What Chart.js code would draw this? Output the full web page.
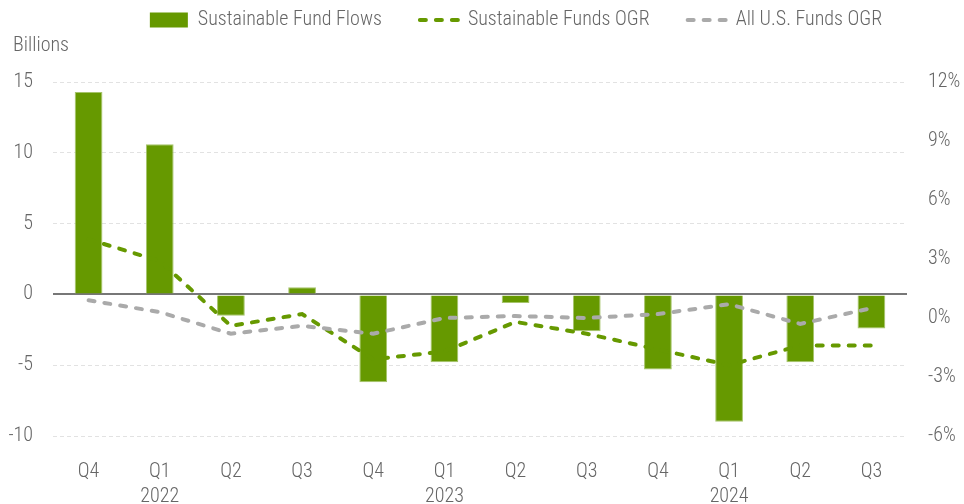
<!DOCTYPE html>
<html>
<head>
<meta charset="utf-8">
<script src="https://cdn.jsdelivr.net/npm/chart.js@4/dist/chart.umd.min.js"></script>
<style>
  html, body { margin: 0; padding: 0; background: #fff; }
  #wrap { width: 964px; height: 504px; }
</style>
</head>
<body>
<div id="wrap"><canvas id="flowChart" width="964" height="504"></canvas></div>
<script>
/* ===============================
   DATA
================================ */
const quarters = [
  ["Q4"], ["Q1", "2022"], ["Q2"], ["Q3"],
  ["Q4"], ["Q1", "2023"], ["Q2"], ["Q3"],
  ["Q4"], ["Q1", "2024"], ["Q2"], ["Q3"]
];
const fundFlows = [14.3, 10.6, -1.5, 0.5, -6.2, -4.8, -0.6, -2.6, -5.3, -9.0, -4.8, -2.4];
const sustainableOgr = [4.0, 2.9, -0.4, 0.2, -2.1, -1.7, -0.2, -0.8, -1.6, -2.4, -1.4, -1.4];
const allFundsOgr = [0.9, 0.3, -0.8, -0.4, -0.8, 0.0, 0.1, 0.0, 0.2, 0.7, -0.3, 0.5];

const leftTicks = { min: -10, max: 15, step: 5 };
const rightTicks = { min: -6, max: 12, step: 3 };

/* ===============================
   STYLE
================================ */
const FONT = "'Roboto Condensed', 'Liberation Sans Narrow', Roboto, sans-serif";
const TEXT = "#666";
const GREEN = "#669900";
const GREY = "#aaaaaa";
const DASH = [6, 10];

// the centred legend and the "Billions" title sit a bit right in the original
const blockShift = {
  id: "blockShift",
  afterLayout(chart) {
    chart.legend.left += 34;
    chart.legend.right += 34;
    chart.titleBlock.left += 13;
    chart.titleBlock.right += 13;
  }
};

new Chart(document.getElementById("flowChart"), {
  type: "bar",
  data: {
    labels: quarters,
    datasets: [
      {
        label: "Sustainable Fund Flows",
        data: fundFlows,
        backgroundColor: GREEN,
        borderColor: "#a6c46b",
        borderWidth: 1,
        pointStyle: "rect",
        yAxisID: "y",
        order: 2,
        categoryPercentage: 1,
        barPercentage: 0.39
      },
      {
        type: "line",
        label: "Sustainable Funds OGR",
        data: sustainableOgr,
        borderColor: GREEN,
        backgroundColor: GREEN,
        borderWidth: 4,
        borderDash: DASH,
        borderCapStyle: "round",
        pointRadius: 0,
        pointStyle: "line",
        tension: 0,
        yAxisID: "y1",
        order: 1
      },
      {
        type: "line",
        label: "All U.S. Funds OGR",
        data: allFundsOgr,
        borderColor: GREY,
        backgroundColor: GREY,
        borderWidth: 4,
        borderDash: DASH,
        borderCapStyle: "round",
        pointRadius: 0,
        pointStyle: "line",
        tension: 0,
        yAxisID: "y1",
        order: 0
      }
    ]
  },
  options: {
    responsive: false,
    animation: false,
    layout: { padding: { left: 0, top: -28, right: 0, bottom: 0 } },
    plugins: {
      legend: {
        position: "top",
        labels: {
          usePointStyle: true,
          pointStyleWidth: 38,
          boxHeight: 15,
          padding: 38,
          color: TEXT,
          font: { family: FONT, size: 20, weight: 300 },
          sort: (a, b) => a.datasetIndex - b.datasetIndex,
          generateLabels: chart => {
            const items = Chart.defaults.plugins.legend.labels.generateLabels(chart);
            items.forEach(item => {
              const ds = chart.data.datasets[item.datasetIndex];
              if (ds.type === "line") {
                item.lineDash = DASH;
                item.lineCap = "round";
                item.lineWidth = 4;
                item.strokeStyle = ds.borderColor;
              } else {
                item.fillStyle = GREEN;
                item.strokeStyle = GREEN;
                item.lineWidth = 0;
              }
            });
            return items;
          }
        }
      },
      title: {
        display: true,
        text: "Billions",
        align: "start",
        weight: 500,
        color: TEXT,
        font: { family: FONT, size: 20, weight: 300, lineHeight: 1 },
        padding: { top: -4, bottom: 26 }
      },
      tooltip: { enabled: false }
    },
    scales: {
      x: {
        grid: { display: false },
        border: { display: false },
        ticks: {
          color: TEXT,
          padding: 15,
          maxRotation: 0,
          autoSkip: false,
          font: { family: FONT, size: 20, weight: 300, lineHeight: 1.25 }
        },
        afterFit: s => { s.height = 68; }
      },
      y: {
        position: "left",
        min: leftTicks.min,
        max: leftTicks.max,
        ticks: {
          stepSize: leftTicks.step,
          color: TEXT,
          padding: 20,
          font: { family: FONT, size: 20, weight: 300 }
        },
        grid: {
          drawTicks: false,
          color: c => (c.tick && c.tick.value === 0 ? "#777" : "#e2e2e2"),
          lineWidth: c => (c.tick && c.tick.value === 0 ? 2 : 1)
        },
        border: {
          display: false,
          dash: c => (c.tick && c.tick.value === 0 ? [] : [4, 3])
        },
        afterFit: s => { s.width = 53; }
      },
      y1: {
        position: "right",
        min: rightTicks.min,
        max: rightTicks.max,
        ticks: {
          stepSize: rightTicks.step,
          color: TEXT,
          padding: 21,
          font: { family: FONT, size: 20, weight: 300 },
          callback: v => v + "%"
        },
        grid: { drawOnChartArea: false, drawTicks: false },
        border: { display: false },
        afterFit: s => { s.width = 57; }
      }
    }
  },
  plugins: [blockShift]
});
</script>
</body>
</html>
